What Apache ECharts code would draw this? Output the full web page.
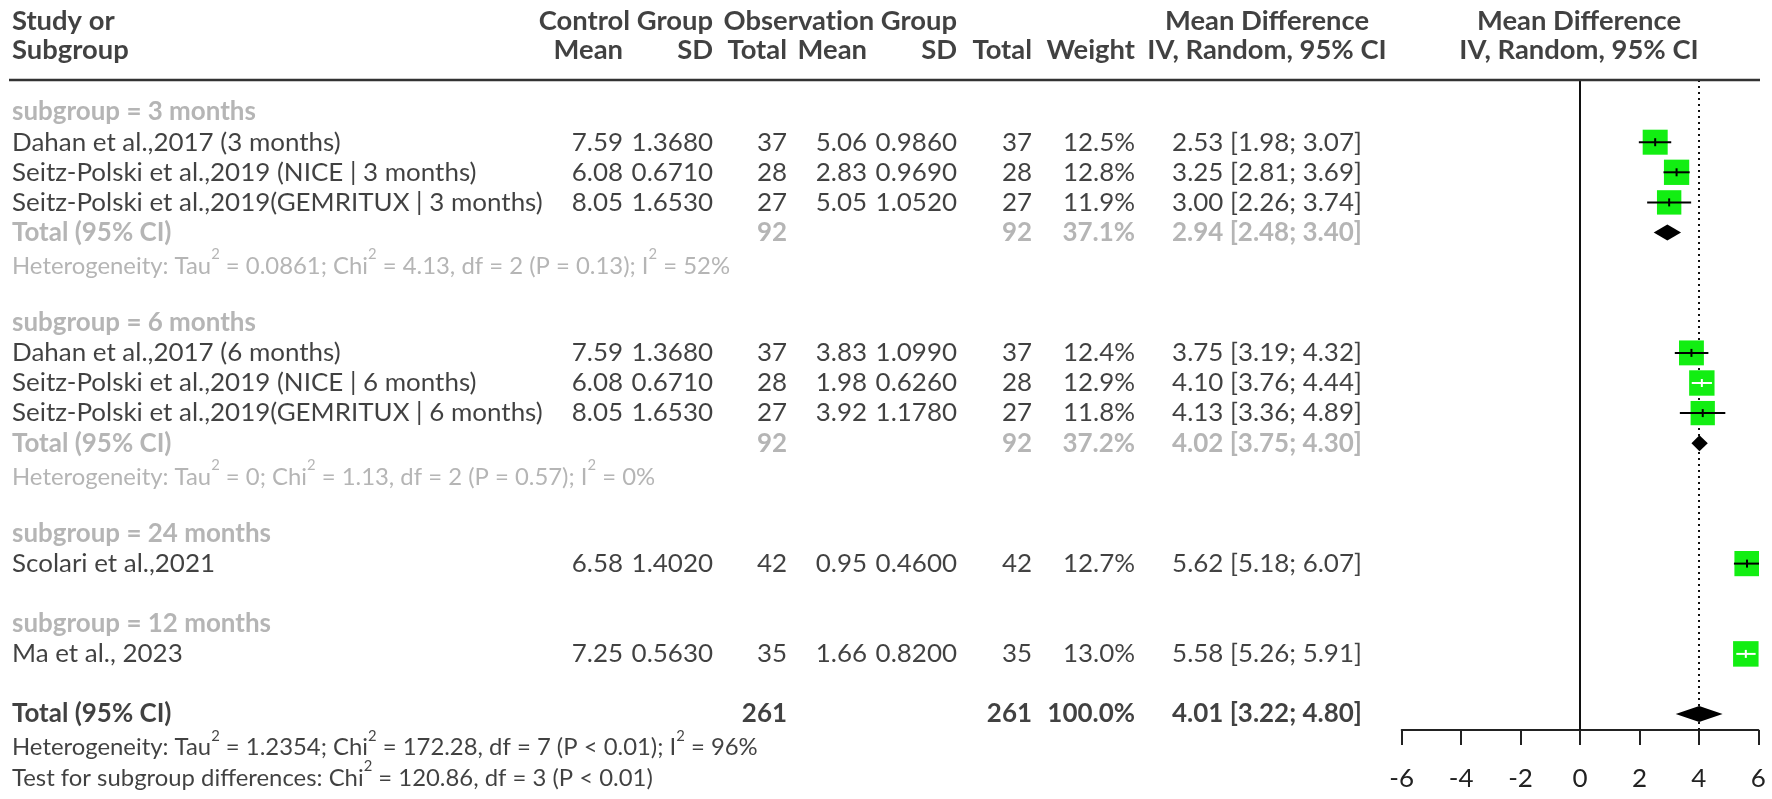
<!DOCTYPE html>
<html>
<head>
<meta charset="utf-8">
<script src="https://cdn.jsdelivr.net/npm/echarts@6/dist/echarts.min.js"></script>
<style>html,body{margin:0;padding:0;background:#fff}#c{width:1772px;height:799px}</style>
</head>
<body>
<div id="c"></div>
<script>
// ---------------- DATA ----------------
const subgroupLabels = ['subgroup = 3 months', 'subgroup = 6 months', 'subgroup = 24 months', 'subgroup = 12 months'];
const studies = [
  'Dahan et al.,2017 (3 months)',
  'Seitz-Polski et al.,2019 (NICE | 3 months)',
  'Seitz-Polski et al.,2019(GEMRITUX | 3 months)',
  'Dahan et al.,2017 (6 months)',
  'Seitz-Polski et al.,2019 (NICE | 6 months)',
  'Seitz-Polski et al.,2019(GEMRITUX | 6 months)',
  'Scolari et al.,2021',
  'Ma et al., 2023'
];
const studySubgroup = [0, 0, 0, 1, 1, 1, 2, 3];
const ctrlMean = [7.59, 6.08, 8.05, 7.59, 6.08, 8.05, 6.58, 7.25];
const ctrlSD   = [1.3680, 0.6710, 1.6530, 1.3680, 0.6710, 1.6530, 1.4020, 0.5630];
const ctrlN    = [37, 28, 27, 37, 28, 27, 42, 35];
const obsMean  = [5.06, 2.83, 5.05, 3.83, 1.98, 3.92, 0.95, 1.66];
const obsSD    = [0.9860, 0.9690, 1.0520, 1.0990, 0.6260, 1.1780, 0.4600, 0.8200];
const obsN     = [37, 28, 27, 37, 28, 27, 42, 35];
const weight   = [12.5, 12.8, 11.9, 12.4, 12.9, 11.8, 12.7, 13.0];
const md       = [2.53, 3.25, 3.00, 3.75, 4.10, 4.13, 5.62, 5.58];
const mdLower  = [1.98, 2.81, 2.26, 3.19, 3.76, 3.36, 5.18, 5.26];
const mdUpper  = [3.07, 3.69, 3.74, 4.32, 4.44, 4.89, 6.07, 5.91];

// subgroup pooled results (null = single-study subgroup, no total row)
const sgCtrlN  = [92, 92, null, null];
const sgObsN   = [92, 92, null, null];
const sgWeight = [37.1, 37.2, null, null];
const sgMD     = [2.94, 4.02, null, null];
const sgLower  = [2.48, 3.75, null, null];
const sgUpper  = [3.40, 4.30, null, null];
const sgTau2   = ['0.0861', '0', null, null];
const sgChi2   = ['4.13', '1.13', null, null];
const sgDf     = [2, 2, null, null];
const sgP      = ['= 0.13', '= 0.57', null, null];
const sgI2     = [52, 0, null, null];

// overall
const totalCtrlN = 261, totalObsN = 261, totalWeight = 100.0;
const totalMD = 4.01, totalLower = 3.22, totalUpper = 4.80;
const totalTau2 = '1.2354', totalChi2 = '172.28', totalDf = 7, totalP = '< 0.01', totalI2 = 96;
const testChi2 = '120.86', testDf = 3, testP = '< 0.01';

// axis ticks
const xTicks = [-6, -4, -2, 0, 2, 4, 6];

// ---------------- LAYOUT ----------------
const FONT = 'Lato';
const ZWNJ = '\u200C'; // prevents the Lato "ti" ligature
const BLACK = '#111111', GRAY = '#a3a3a3', GREEN = '#12ee12';
const ctx = document.createElement('canvas').getContext('2d');
function measure(t, w) { ctx.font = w + ' 100px ' + FONT; return ctx.measureText(t).width / 100; }
const FS  = 531 / measure(studies[2], 'normal');
const FSB = 234 / measure('Observation Group', 'bold');
const FSH = FS * 0.92;

const ROW0 = 82, ROWH = 30.1, W = 1772, H = 799;
const kOf = px => (px - ROW0) / ROWH;
const COL = { study: 12, cMean: 623, cSD: 713, cN: 787, oMean: 867, oSD: 957, oN: 1032, w: 1135, md: 1267, plot: 1579 };
const kH1 = kOf(21), kH2 = kOf(50), kLine = kOf(80);

const texts = [];
function T(x, k, str, o = {}) {
  const size = o.size || FS;
  const lab = {
    show: true, position: [0, 0],
    align: o.align || 'right', verticalAlign: 'middle',
    fontFamily: FONT, fontSize: size,
    fontWeight: o.bold ? 'bold' : 'normal',
    color: o.color || BLACK,
    formatter: () => str
  };
  if (o.rich) lab.rich = o.rich;
  texts.push({ value: [x, k], label: lab });
}
function richStyles(color) {
  return {
    n: { fontFamily: FONT, fontSize: FSH, color: color, lineHeight: FSH * 1.3, verticalAlign: 'bottom' },
    s: { fontFamily: FONT, fontSize: FSH * 0.62, color: color, lineHeight: FSH * 0.62, verticalAlign: 'top' }
  };
}
function hetStr(tau, chi, df, p, i2) {
  return '{n|Heterogeneity: Tau}{s|2}{n| = ' + tau + '; Chi}{s|2}{n| = ' + chi + ', df = ' + df +
         ' (P ' + p + '); I}{s|2}{n| = ' + i2 + '%}';
}
const fmtCI = (m, l, u) => m.toFixed(2) + ' [' + l.toFixed(2) + '; ' + u.toFixed(2) + ']';

// headers
T(COL.study, kH1, 'Study or', { align: 'left', bold: true, size: FSB });
T(COL.study, kH2, 'Subgroup', { align: 'left', bold: true, size: FSB });
T(COL.cSD, kH1, 'Control Group', { bold: true, size: FSB });
T(COL.oSD, kH1, 'Observat' + ZWNJ + 'ion Group', { bold: true, size: FSB });
T(COL.md, kH1, 'Mean Difference', { align: 'center', bold: true, size: FSB });
T(COL.plot, kH1, 'Mean Difference', { align: 'center', bold: true, size: FSB });
[['Mean', COL.cMean], ['SD', COL.cSD], ['Total', COL.cN], ['Mean', COL.oMean], ['SD', COL.oSD], ['Total', COL.oN], ['Weight', COL.w]]
  .forEach(([t, x]) => T(x, kH2, t, { bold: true, size: FSB }));
T(COL.md, kH2, 'IV, Random, 95% CI', { align: 'center', bold: true, size: FSB });
T(COL.plot, kH2, 'IV, Random, 95% CI', { align: 'center', bold: true, size: FSB });

// body rows
const studyData = [], diamondData = [];
let k = 1;
subgroupLabels.forEach((sg, g) => {
  T(COL.study, k, sg, { align: 'left', bold: true, color: GRAY });
  k++;
  studies.forEach((s, i) => {
    if (studySubgroup[i] !== g) return;
    T(COL.study, k, s, { align: 'left' });
    T(COL.cMean, k, ctrlMean[i].toFixed(2));
    T(COL.cSD, k, ctrlSD[i].toFixed(4));
    T(COL.cN, k, String(ctrlN[i]));
    T(COL.oMean, k, obsMean[i].toFixed(2));
    T(COL.oSD, k, obsSD[i].toFixed(4));
    T(COL.oN, k, String(obsN[i]));
    T(COL.w, k, weight[i].toFixed(1) + '%');
    T(COL.md, k, fmtCI(md[i], mdLower[i], mdUpper[i]), { align: 'center' });
    studyData.push([md[i], k, mdLower[i], mdUpper[i], weight[i]]);
    k++;
  });
  if (sgCtrlN[g] != null) {
    T(COL.study, k, 'Total (95% CI)', { align: 'left', bold: true, color: GRAY });
    T(COL.cN, k, String(sgCtrlN[g]), { bold: true, color: GRAY });
    T(COL.oN, k, String(sgObsN[g]), { bold: true, color: GRAY });
    T(COL.w, k, sgWeight[g].toFixed(1) + '%', { bold: true, color: GRAY });
    T(COL.md, k, fmtCI(sgMD[g], sgLower[g], sgUpper[g]), { align: 'center', bold: true, color: GRAY });
    diamondData.push([sgMD[g], k, sgLower[g], sgUpper[g]]);
    k++;
    T(COL.study, k, hetStr(sgTau2[g], sgChi2[g], sgDf[g], sgP[g], sgI2[g]), { align: 'left', color: GRAY, size: FSH, rich: richStyles(GRAY) });
    k++;
  }
  k++;
});
T(COL.study, k, 'Total (95% CI)', { align: 'left', bold: true });
T(COL.cN, k, String(totalCtrlN), { bold: true });
T(COL.oN, k, String(totalObsN), { bold: true });
T(COL.w, k, totalWeight.toFixed(1) + '%', { bold: true });
T(COL.md, k, fmtCI(totalMD, totalLower, totalUpper), { align: 'center', bold: true });
diamondData.push([totalMD, k, totalLower, totalUpper]);
k++;
T(COL.study, k, hetStr(totalTau2, totalChi2, totalDf, totalP, totalI2), { align: 'left', size: FSH, rich: richStyles(BLACK) });
k++;
T(COL.study, k, '{n|Test for subgroup differences: Chi}{s|2}{n| = ' + testChi2 + ', df = ' + testDf + ' (P ' + testP + ')}',
  { align: 'left', size: FSH, rich: richStyles(BLACK) });

// plot geometry
const PX_LEFT = 1401.7, PX_RIGHT = 1758.3, PLOT_TOP = 80, PLOT_BOTTOM = 730;
const SQ = 25;

const chart = echarts.init(document.getElementById('c'), null, { renderer: 'canvas' });
chart.setOption({
  animation: false,
  backgroundColor: '#ffffff',
  textStyle: { fontFamily: FONT },
  grid: [
    { left: 0, top: 0, width: W, height: H, outerBoundsMode: 'none', containLabel: false },
    { left: PX_LEFT, top: PLOT_TOP, width: PX_RIGHT - PX_LEFT, height: PLOT_BOTTOM - PLOT_TOP, outerBoundsMode: 'none', containLabel: false }
  ],
  xAxis: [
    { gridIndex: 0, type: 'value', min: 0, max: W, show: false },
    {
      gridIndex: 1, type: 'value', min: xTicks[0], max: xTicks[xTicks.length - 1], interval: 2,
      axisLine: { show: true, onZero: false, lineStyle: { color: '#222', width: 2 } },
      axisTick: { show: true, inside: false, length: 15, lineStyle: { color: '#222', width: 2 } },
      axisLabel: { show: true, margin: 36, fontSize: FS, color: '#222', fontFamily: FONT },
      splitLine: { show: false }
    }
  ],
  yAxis: [
    { gridIndex: 0, type: 'value', min: kOf(0), max: kOf(H), inverse: true, show: false },
    { gridIndex: 1, type: 'value', min: kOf(PLOT_TOP), max: kOf(PLOT_BOTTOM), inverse: true, show: false }
  ],
  series: [
    {
      type: 'line', xAxisIndex: 0, yAxisIndex: 0, symbol: 'none', silent: true,
      data: [[9, kLine], [1760, kLine]],
      lineStyle: { color: '#333', width: 2.5 }, z: 1
    },
    {
      type: 'scatter', xAxisIndex: 0, yAxisIndex: 0, symbolSize: 0, silent: true,
      itemStyle: { color: 'transparent' },
      data: texts, z: 5
    },
    {
      type: 'custom', xAxisIndex: 1, yAxisIndex: 1, clip: true, z: 3, silent: true,
      data: studyData,
      renderItem(params, api) {
        const m = api.value(0), r = api.value(1), lo = api.value(2), hi = api.value(3), w = api.value(4);
        const c = api.coord([m, r]), l = api.coord([lo, r]), h = api.coord([hi, r]);
        const s = SQ * Math.sqrt(w / 12.5);
        const inside = l[0] >= c[0] - s / 2 && h[0] <= c[0] + s / 2;
        const lc = inside ? '#ffffff' : '#000000';
        return {
          type: 'group', children: [
            { type: 'rect', shape: { x: c[0] - s / 2, y: c[1] - s / 2, width: s, height: s }, style: { fill: GREEN } },
            { type: 'line', shape: { x1: l[0], y1: c[1], x2: h[0], y2: c[1] }, style: { stroke: lc, lineWidth: 2 } },
            { type: 'line', shape: { x1: c[0], y1: c[1] - 4, x2: c[0], y2: c[1] + 4 }, style: { stroke: lc, lineWidth: 2 } }
          ]
        };
      },
      markLine: {
        symbol: 'none', silent: true, z: 1, label: { show: false }, animation: false,
        data: [
          { xAxis: 0, lineStyle: { color: '#111', width: 2, type: 'solid' } },
          { xAxis: totalMD, lineStyle: { color: '#111', width: 2, type: [2, 4] } }
        ]
      }
    },
    {
      type: 'custom', xAxisIndex: 1, yAxisIndex: 1, clip: true, z: 3, silent: true,
      data: diamondData,
      renderItem(params, api) {
        const m = api.value(0), r = api.value(1), lo = api.value(2), hi = api.value(3);
        const c = api.coord([m, r]), l = api.coord([lo, r]), h = api.coord([hi, r]);
        const dh = 8;
        return {
          type: 'polygon',
          shape: { points: [[l[0], c[1]], [c[0], c[1] - dh], [h[0], c[1]], [c[0], c[1] + dh]] },
          style: { fill: '#000' }
        };
      }
    }
  ]
});
</script>
</body>
</html>
